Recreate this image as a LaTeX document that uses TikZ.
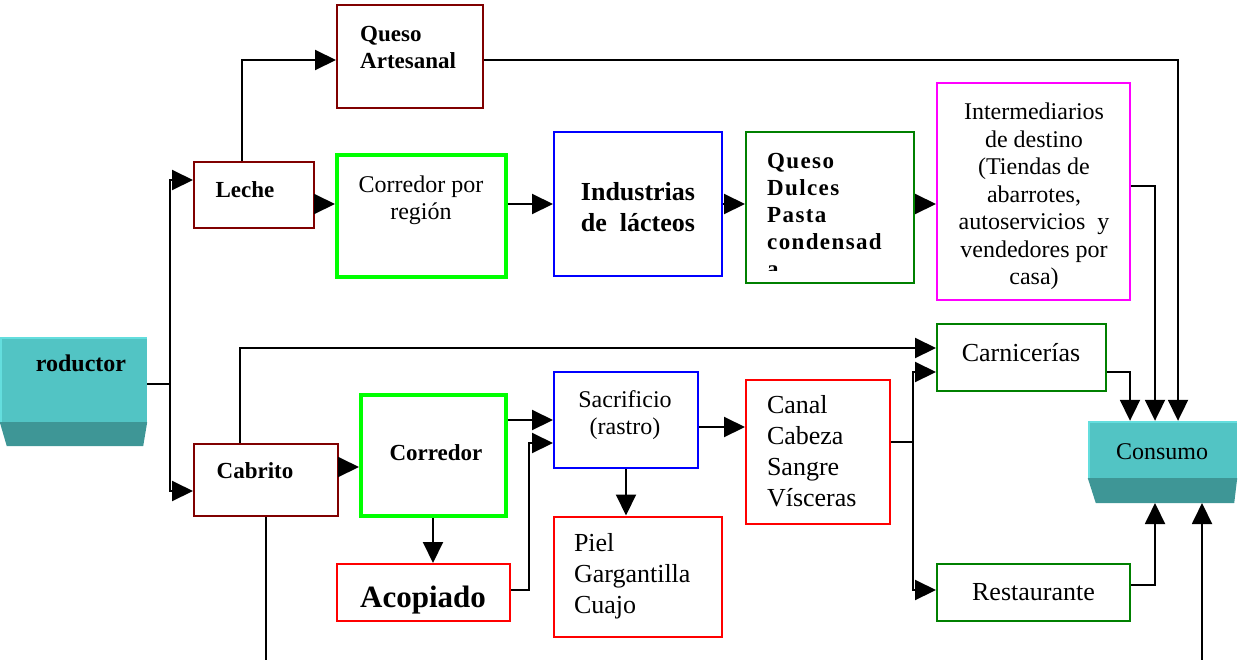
\documentclass[tikz,border=0pt]{standalone}
\usepackage{fontspec}
\setmainfont{Liberation Serif}
\newfontfamily\espaciada[LetterSpace=6]{Liberation Serif}
\usetikzlibrary{arrows.meta}

\definecolor{vino}{RGB}{128,0,0}
\definecolor{verde}{RGB}{0,128,0}
\definecolor{lima}{RGB}{0,255,0}
\definecolor{azul}{RGB}{0,0,255}
\definecolor{rojo}{RGB}{255,0,0}
\definecolor{fucsia}{RGB}{255,0,255}
\definecolor{turq}{RGB}{82,196,196}
\definecolor{turqclaro}{RGB}{100,222,222}
\definecolor{turqosc}{RGB}{62,150,150}

\tikzset{
	caja/.style={shape=rectangle, draw=#1, line width=2pt, inner sep=0pt},
	cajag/.style={caja=#1, line width=4pt},
	flecha/.style={-{Triangle[length=21pt,width=20pt]}, line width=2pt},
	linea/.style={line width=2pt},
	txt/.style={font=\fontsize{24}{27.5}\selectfont, align=center, inner sep=0pt},
	txtb/.style={font=\bfseries\fontsize{23}{27}\selectfont, align=left, inner sep=0pt}
}

\begin{document}
\begin{tikzpicture}[x=1pt, y=-1pt]
	
	\useasboundingbox (0,0) rectangle (1238,659);
	\clip (0,0) rectangle (1238,659);
	
	% leche
	\node[caja=vino, minimum width=146pt, minimum height=103pt] (qart) at (410,56.5) {};
	\node[txtb, anchor=north west] (qart-t) at (360,26) {Queso\\Artesanal};
	\node[caja=vino, minimum width=120pt, minimum height=66pt] (leche) at (254,195) {};
	\node[txtb] (leche-t) at (245,189.5) {Leche};
	\node[cajag=lima, minimum width=169pt, minimum height=122pt] (cpr) at (421.5,216) {};
	\node[txt] (cpr-t) at (421,200.5) {Corredor por\\región};
	\node[caja=azul, minimum width=168pt, minimum height=144pt] (ind) at (638,204) {};
	\node[align=center, inner sep=0pt, font=\bfseries\fontsize{26}{31}\selectfont] (ind-t) at (638,207) {Industrias\\de~ lácteos};
	\node[caja=verde, minimum width=168pt, minimum height=151pt] (qdul) at (830,207.5) {};
	\begin{scope}
		\clip (748,134) rectangle (912,270);
		\node[txtb, anchor=north west, font=\espaciada\bfseries\fontsize{23}{27}\selectfont] (qdul-t) at (767,153) {Queso\\Dulces\\Pasta\\condensad\\a};
	\end{scope}
	\node[caja=fucsia, minimum width=193pt, minimum height=217pt] (interm) at (1033.5,191.5) {};
	\node[txt] (interm-t) at (1034,196.5) {Intermediarios\\de destino\\(Tiendas de\\abarrotes,\\autoservicios~ y\\vendedores por\\casa)};
	
	% productor y consumo
	\node[shape=rectangle, fill=turq, minimum width=147pt, minimum height=85pt] (prod) at (73.5,379.5) {};
	\draw[turqclaro, line width=2pt] ([xshift=1pt]prod.south west) -- ([shift={(1pt,-1pt)}]prod.north west) -- ([yshift=-1pt]prod.north east);
	\fill[turqosc] (prod.south west) -- (prod.south east) -- ([xshift=-4pt,yshift=-24pt]prod.south east) -- ([xshift=7pt,yshift=-24pt]prod.south west) -- cycle;
	\node[txtb, font=\bfseries\fontsize{24}{27}\selectfont] (prod-t) at (81,363) {roductor};
	\node[shape=rectangle, fill=turq, minimum width=149pt, minimum height=57pt] (consumo) at (1162.5,449.5) {};
	\draw[turqclaro, line width=2pt] ([xshift=1pt]consumo.south west) -- ([shift={(1pt,-1pt)}]consumo.north west) -- ([yshift=-1pt]consumo.north east);
	\node[txt] (consumo-t) at (1162,451.5) {Consumo};
	\fill[turqosc] (consumo.south west) -- (consumo.south east) -- ([xshift=-3pt,yshift=-25pt]consumo.south east) -- ([xshift=8pt,yshift=-25pt]consumo.south west) -- cycle;
	\coordinate (consumo-b) at (1162.5,503);
	
	% cabrito
	\node[caja=verde, minimum width=169pt, minimum height=67pt] (carn) at (1021.5,357.5) {};
	\node[txt, font=\fontsize{26}{30}\selectfont] (carn-t) at (1021,353) {Carnicerías};
	\node[caja=vino, minimum width=144pt, minimum height=72pt] (cabrito) at (266,480) {};
	\node[txtb] (cabrito-t) at (255,471) {Cabrito};
	\node[cajag=lima, minimum width=145pt, minimum height=121pt] (corr) at (433.5,455.5) {};
	\node[txtb] (corr-t) at (436,452.5) {Corredor};
	\node[caja=azul, minimum width=144pt, minimum height=96pt] (sacr) at (626,420) {};
	\node[txt] (sacr-t) at (625,415) {Sacrificio\\(rastro)};
	\node[caja=rojo, minimum width=144pt, minimum height=144pt, text width=102pt, align=left, font=\fontsize{26}{31}\selectfont] (canal) at (818,451.5) {Canal\\Cabeza\\Sangre\\Vísceras};
	\node[caja=rojo, minimum width=173pt, minimum height=57pt] (acop) at (423.5,592.5) {};
	\node[font=\bfseries\fontsize{31}{36}\selectfont, inner sep=0pt] (acop-t) at (423,600) {Acopiado};
	\node[caja=rojo, minimum width=168pt, minimum height=120pt, text width=128pt, align=left, font=\fontsize{26}{31}\selectfont] (piel) at (638,576.5) {Piel\\Gargantilla\\Cuajo};
	\node[caja=verde, minimum width=193pt, minimum height=57pt, font=\fontsize{26}{30}\selectfont] (rest) at (1033.5,592.5) {Restaurante};
	
	% conexiones
	\draw[linea] (prod.east |- 0,384) -- (170,384) coordinate (tronco);
	\draw[flecha] (tronco) |- (leche.west |- 0,180);
	\draw[flecha] (tronco) |- (cabrito.west |- 0,491);
	\draw[flecha] (leche.north -| 242,0) |- (qart.west |- 0,60);
	\path[flecha] (leche.east |- 0,204) edge (cpr.west |- 0,204);
	\path[flecha] (cpr.east |- 0,204) edge (ind.west |- 0,204);
	\path[flecha] (ind.east |- 0,204) edge (qdul.west |- 0,204);
	\path[flecha] (qdul.east |- 0,204) edge (interm.west |- 0,204);
	\draw[flecha] (qart.east |- 0,60) -| (consumo.north -| 1178,0);
	\draw[flecha] (interm.east |- 0,186) -| (consumo.north -| 1155,0);
	\draw[flecha] (carn.east |- 0,372) -| (consumo.north -| 1130,0);
	\draw[flecha] (cabrito.north -| 240,0) |- (carn.west |- 0,348);
	\path[flecha] (cabrito.east |- 0,467) edge (corr.west |- 0,467);
	\path[flecha] (corr.east |- 0,420) edge (sacr.west |- 0,420);
	\path[flecha] (corr.south -| 433,0) edge (acop.north -| 433,0);
	\draw[flecha] (acop.east |- 0,590) -- (529,590) -- (529,443) -- (sacr.west |- 0,443);
	\path[flecha] (sacr.east |- 0,427) edge (canal.west |- 0,427);
	\path[flecha] (sacr.south -| 626,0) edge (piel.north -| 626,0);
	\draw[linea] (canal.east |- 0,442) -- (913,442) coordinate (reparto);
	\draw[flecha] (reparto) |- (carn.west |- 0,372);
	\draw[flecha] (reparto) |- (rest.west |- 0,590);
	\draw[flecha] (rest.east |- 0,585) -| (consumo-b -| 1155,0);
	\draw[flecha] (cabrito.south -| 266,0) -- (266,690) -| (consumo-b -| 1202,0);
	
\end{tikzpicture}
\end{document}
